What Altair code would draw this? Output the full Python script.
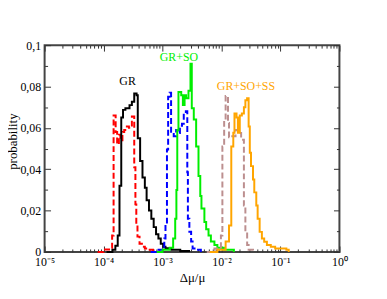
import altair as alt
import pandas as pd

# Histogram step edges (log10 of Δμ/μ) and probabilities
gr_lg = [-3.95, -3.85, -3.80, -3.76, -3.73, -3.70, -3.67, -3.63, -3.56, -3.52, -3.48, -3.44, -3.42, -3.38,
         -3.34, -3.30, -3.27, -3.23, -3.19, -3.15, -3.11, -3.07, -3.03, -2.99, -2.95, -2.85, -2.70, -2.55]
gr_p = [0.0, 0.001, 0.003, 0.008, 0.032, 0.065, 0.0687, 0.0695, 0.071, 0.0726, 0.0766, 0.0758, 0.055, 0.044,
        0.036, 0.031, 0.025, 0.020, 0.016, 0.012, 0.0085, 0.0065, 0.004, 0.0025, 0.0018, 0.001, 0.0005, 0.0]

red_lg = [-4.10, -4.00, -3.88, -3.855, -3.83, -3.795, -3.77, -3.74, -3.715, -3.68, -3.65, -3.605, -3.57,
          -3.52, -3.48, -3.46, -3.445, -3.425, -3.39, -3.35, -3.30, -3.24, -3.16]
red_p = [0.0, 0.0012, 0.002, 0.008, 0.066, 0.058, 0.052, 0.0567, 0.054, 0.058, 0.059, 0.0607, 0.060,
         0.0655, 0.041, 0.023, 0.0136, 0.0074, 0.004, 0.0025, 0.0017, 0.001, 0.0]

blue_lg = [-3.20, -3.10, -2.97, -2.95, -2.925, -2.905, -2.88, -2.855, -2.81, -2.77, -2.74, -2.705, -2.67,
           -2.64, -2.605, -2.58, -2.57, -2.545, -2.515, -2.49, -2.43, -2.35]
blue_p = [0.0, 0.001, 0.0065, 0.0136, 0.0495, 0.075, 0.077, 0.0575, 0.056, 0.059, 0.0575, 0.061, 0.062,
          0.067, 0.068, 0.0385, 0.016, 0.0098, 0.005, 0.0017, 0.001, 0.0]

green_lg = [-3.10, -3.00, -2.88, -2.82, -2.785, -2.765, -2.75, -2.73, -2.683, -2.655, -2.626, -2.60, -2.56,
            -2.526, -2.504, -2.47, -2.43, -2.39, -2.36, -2.34, -2.29, -2.26, -2.22, -2.18, -2.12, -2.07,
            -1.96, -1.79]
green_p = [0.0, 0.001, 0.002, 0.0065, 0.016, 0.030, 0.059, 0.0774, 0.0758, 0.071, 0.0758, 0.0743, 0.078,
           0.091, 0.0695, 0.064, 0.051, 0.0367, 0.027, 0.021, 0.0145, 0.011, 0.008, 0.005, 0.0033, 0.002,
           0.001, 0.0]

brown_lg = [-2.25, -2.15, -2.12, -2.01, -1.985, -1.955, -1.93, -1.89, -1.873, -1.817, -1.762, -1.705,
            -1.667, -1.62, -1.595, -1.565, -1.54, -1.466]
brown_p = [0.0, 0.001, 0.0017, 0.008, 0.051, 0.064, 0.0754, 0.0624, 0.0555, 0.056, 0.059, 0.0575,
           0.0543, 0.0224, 0.0098, 0.0033, 0.001, 0.0]

orange_lg = [-2.20, -2.07, -1.93, -1.873, -1.834, -1.80, -1.78, -1.745, -1.722, -1.69, -1.655, -1.62,
             -1.595, -1.566, -1.54, -1.52, -1.50, -1.466, -1.444, -1.41, -1.387, -1.353, -1.315, -1.276,
             -1.23, -1.164, -1.09, -0.90, -0.86]
orange_p = [0.0, 0.001, 0.005, 0.0128, 0.051, 0.0576, 0.067, 0.065, 0.0576, 0.066, 0.067, 0.070,
            0.0734, 0.0743, 0.0607, 0.048, 0.0415, 0.035, 0.0288, 0.0224, 0.016, 0.0097, 0.0065, 0.0049,
            0.0033, 0.0025, 0.0017, 0.001, 0.0]

# Annotations
ann_text = ["GR", "GR+SO", "GR+SO+SS"]
ann_lg = [-3.593, -2.722, -1.586]
ann_p = [0.0827, 0.0942, 0.0800]
ann_color = ["#000000", "#00ee00", "#ffa500"]

x_tick_labels = ["10⁻⁵", "10⁻⁴", "10⁻³", "10⁻²", "10⁻¹", "10⁰"]
y_tick_labels = ["0", "0,02", "0,04", "0,06", "0,08", "0,1"]

W, H = 298, 209
FONT = "Liberation Serif"

x_vals = [m * 10.0 ** k for k in range(-5, 0) for m in range(1, 10)] + [1.0]
y_vals = [round(i * 0.01, 2) for i in range(0, 11)]

lg_expr = "log(datum.value)/LN10"
x_major = f"abs({lg_expr} - round({lg_expr})) < 0.001"
x_label_expr = f"{x_major} ? {x_tick_labels!r}[round({lg_expr})+5] : ''"
y_major = "abs(datum.value*50 - round(datum.value*50)) < 0.01"
y_label_expr = f"{y_major} ? {y_tick_labels!r}[round(datum.value*50)] : ''"

x_scale = alt.Scale(type="log", domain=[1e-5, 1], nice=False)
y_scale = alt.Scale(domain=[0, 0.1], nice=False)

x_axis = alt.Axis(
    values=x_vals, labelExpr=x_label_expr, title="Δμ/μ",
    grid=True, gridColor="#333333", gridWidth=1,
    gridDash={"condition": {"test": x_major, "value": [6, H - 12, 6, 1000]},
              "value": [3, H - 6, 3, 1000]},
    ticks=False, tickSize=0, domain=False, labelOverlap=False, labelFlush=False,
    labelFont=FONT, labelFontSize=12, labelColor="black", labelPadding=5,
    titleFont=FONT, titleFontSize=13, titleFontWeight="normal", titleColor="black", titlePadding=4,
)
y_axis = alt.Axis(
    values=y_vals, labelExpr=y_label_expr, title="probability",
    grid=True, gridColor="#333333", gridWidth=1,
    gridDash={"condition": {"test": y_major, "value": [6, W - 12, 6, 1000]},
              "value": [3, W - 6, 3, 1000]},
    ticks=False, tickSize=0, domain=False, labelOverlap=False, labelFlush=False,
    labelFont=FONT, labelFontSize=12, labelColor="black", labelPadding=4,
    titleFont=FONT, titleFontSize=13, titleFontWeight="normal", titleColor="black",
    titleX=-32, titleY=97, titleBaseline="middle",
)


def series(lg, p, color, dash):
    df = pd.DataFrame({"x": [10.0 ** v for v in lg], "p": p})
    m = alt.Chart(df).mark_line(interpolate="step-after", color=color, strokeWidth=2,
                                strokeDash=dash if dash else [1, 0])
    return m.encode(x=alt.X("x:Q", scale=x_scale, axis=x_axis),
                    y=alt.Y("p:Q", scale=y_scale, axis=y_axis))


layers = [
    series(red_lg, red_p, "#ff0000", [6, 3]),
    series(gr_lg, gr_p, "#000000", None),
    series(blue_lg, blue_p, "#0000ff", [6, 3]),
    series(green_lg, green_p, "#00ee00", None),
    series(brown_lg, brown_p, "#bc8f8f", [6, 3]),
    series(orange_lg, orange_p, "#ffa500", None),
]

ann_df = pd.DataFrame({"t": ann_text, "x": [10.0 ** v for v in ann_lg], "p": ann_p, "c": ann_color})
text = alt.Chart(ann_df).mark_text(font=FONT, fontSize=12, align="center", baseline="middle").encode(
    x=alt.X("x:Q", scale=x_scale, axis=x_axis),
    y=alt.Y("p:Q", scale=y_scale, axis=y_axis),
    text="t:N",
    color=alt.Color("c:N", scale=None),
)

chart = alt.layer(*layers, text).properties(
    width=W, height=H,
    autosize=alt.AutoSizeParams(type="none"),
    padding={"left": 37, "top": 36, "right": 40, "bottom": 44},
).configure_view(stroke="#444444", strokeWidth=2)

chart.save("out.html", embed_options={"renderer": "svg", "actions": False})
